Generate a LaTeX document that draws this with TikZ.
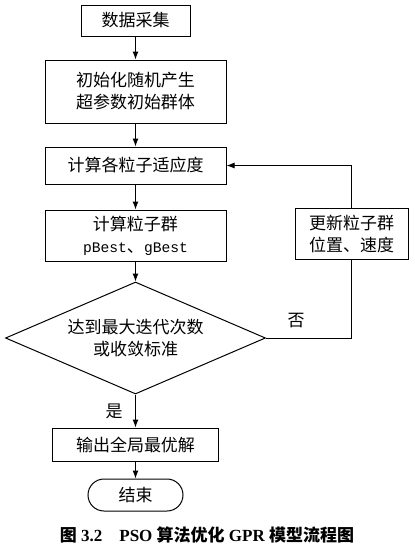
\documentclass[tikz,border=0pt]{standalone}
\usepackage{fontspec}
\setmainfont{Liberation Serif}
\newfontfamily\cjk{Noto Sans CJK SC}
\newfontfamily\latinmono[Scale=0.86]{Liberation Mono}
\usetikzlibrary{
    arrows.meta,
    shapes.geometric
}

\tikzset{
    procbox/.style={draw, line width=1pt, inner sep=0pt, align=center,
        font=\cjk\fontsize{17}{22}\selectfont},
    flowarrow/.style={-{Latex[length=8pt,width=6pt]}, line width=1pt},
    flowline/.style={line width=1pt}
}

\begin{document}
\begin{tikzpicture}[x=1pt,y=-1pt]
\useasboundingbox (0,0) rectangle (415,547);

% Main column of steps
\node[procbox, minimum width=109, minimum height=31] (collect) at (135.5,20.5) {数据采集};
\node[procbox, minimum width=181, minimum height=63] (init) at (135.5,91.5) {初始化随机产生\\超参数初始群体};
\node[procbox, minimum width=181, minimum height=37] (fitness) at (135.5,165.5) {计算各粒子适应度};
\node[procbox, minimum width=181, minimum height=51] (best) at (135.5,235.5)
    {计算粒子群\\{\latinmono pBest}、{\latinmono gBest}};

% Stopping test
\node[procbox, shape=diamond, shape aspect=2.32, minimum width=260, minimum height=112] (check) at (135.5,338)
    {达到最大迭代次数\\或收敛标准};

% Update step on the loop back
\node[procbox, minimum width=113, minimum height=51] (update) at (351.5,233.5) {更新粒子群\\位置、速度};

% Output and end
\node[procbox, minimum width=166, minimum height=33] (output) at (135.5,444.5) {输出全局最优解};
\node[procbox, minimum width=95, minimum height=32, rounded corners=16] (finish) at (135.5,495) {结束};

% Arrows down the column
\draw[flowarrow] (collect) -- (init);
\draw[flowarrow] (init) -- (fitness);
\draw[flowarrow] (fitness) -- (best);
\draw[flowarrow] (best) -- (check);
\draw[flowarrow] (check) -- (output);
\draw[flowarrow] (output) -- (finish);

% Loop back when not finished
\draw[flowline] (check.east) -| (update.south);
\draw[flowarrow] (update.north) |- (fitness.east);

% Branch labels
\node[font=\cjk\fontsize{17}{22}\selectfont] (no) at (296,321) {否};
\node[font=\cjk\fontsize{17}{22}\selectfont] (yes) at (114,411) {是};

% Caption
\node[font=\bfseries\fontsize{17}{20}\selectfont] (caption) at (207,535)
    {{\cjk\bfseries 图}\ 3.2\quad PSO {\cjk\bfseries 算法优化} GPR {\cjk\bfseries 模型流程图}};

\end{tikzpicture}
\end{document}
